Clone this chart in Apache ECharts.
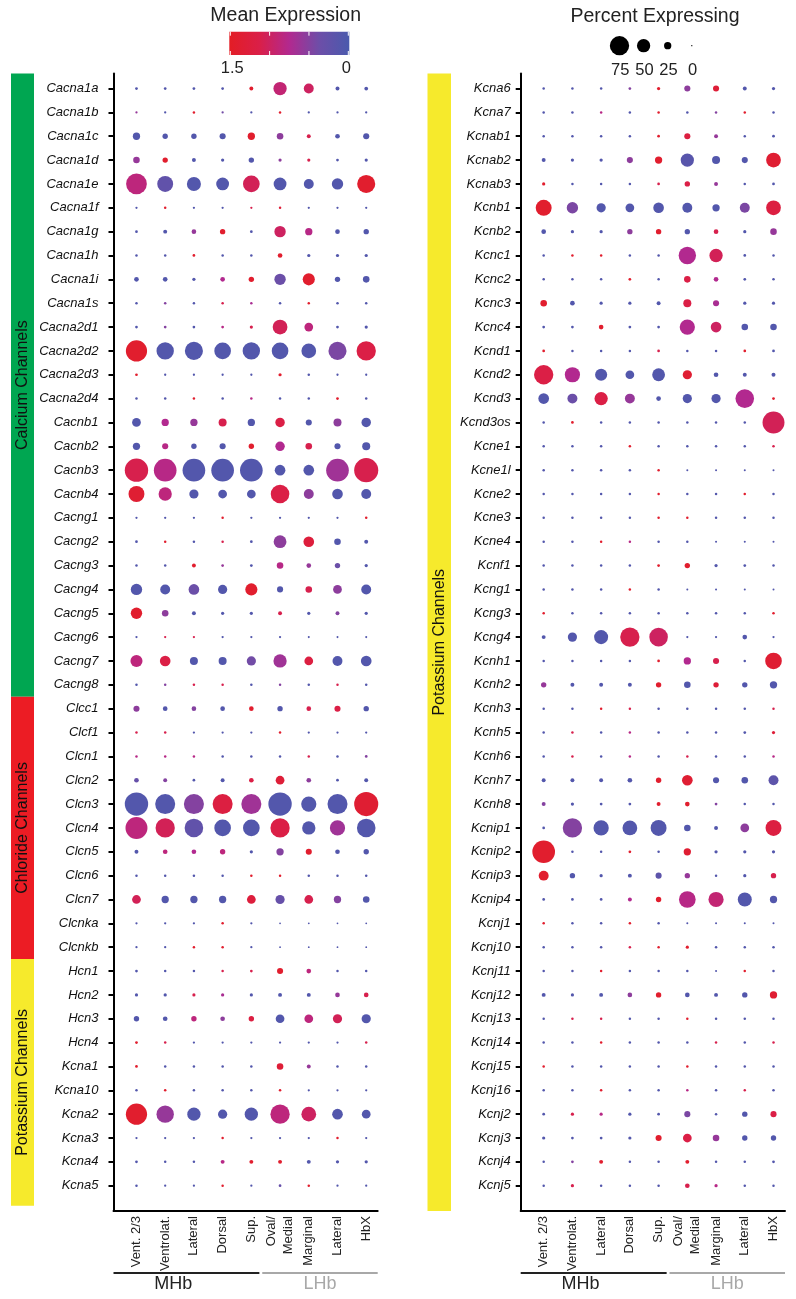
<!DOCTYPE html>
<html><head><meta charset="utf-8">
<script src="https://cdn.jsdelivr.net/npm/echarts@6/dist/echarts.min.js"></script>
<style>html,body{margin:0;padding:0;background:#fff}#c{width:796px;height:1299px}</style>
</head><body><div id="c"></div>
<script>
// ---------------- DATA ----------------
const clusters = ['Vent. 2/3','Ventrolat.','Lateral','Dorsal','Sup.','Oval/\nMedial','Marginal','Lateral','HbX'];
const regionNames = ['MHb','LHb'];
const regionSizes = [5, 4];

const genesLeft = ['Cacna1a','Cacna1b','Cacna1c','Cacna1d','Cacna1e','Cacna1f','Cacna1g','Cacna1h','Cacna1i','Cacna1s',
 'Cacna2d1','Cacna2d2','Cacna2d3','Cacna2d4','Cacnb1','Cacnb2','Cacnb3','Cacnb4','Cacng1','Cacng2','Cacng3','Cacng4',
 'Cacng5','Cacng6','Cacng7','Cacng8','Clcc1','Clcf1','Clcn1','Clcn2','Clcn3','Clcn4','Clcn5','Clcn6','Clcn7','Clcnka',
 'Clcnkb','Hcn1','Hcn2','Hcn3','Hcn4','Kcna1','Kcna10','Kcna2','Kcna3','Kcna4','Kcna5'];
const groupNamesLeft = ['Calcium Channels','Chloride Channels','Potassium Channels'];
const groupSizesLeft = [26, 11, 10];

// percent expressing per gene (rows) x cluster (cols)
const pctLeft = [
 [6,6,6,6,11,50,36,11,10],[4,4,5,4,4,5,4,4,4],[25,17,17,20,25,22,11,14,20],[22,17,11,8,17,8,8,6,8],
 [81,61,53,48,64,48,36,42,70],[4,5,4,4,4,5,4,4,4],[6,11,14,17,6,42,25,14,17],[5,5,6,5,5,14,8,8,8],
 [14,14,8,14,17,42,45,17,22],[5,5,5,5,5,5,5,5,5],[6,6,6,6,8,56,31,6,8],[83,67,70,64,67,64,56,70,75],
 [6,4,4,4,4,8,5,4,4],[5,5,5,5,5,5,5,6,5],[31,25,25,28,25,34,20,28,34],[25,20,17,20,17,34,22,20,28],
 [92,89,89,89,89,39,39,89,95],[61,50,33,31,31,72,36,39,36],[4,4,4,5,4,4,4,4,5],[6,5,5,5,6,48,39,22,11],
 [5,5,11,6,6,22,14,17,8],[42,36,39,33,45,20,22,31,36],[42,22,11,8,8,11,8,11,8],[4,4,4,4,4,4,3,3,3],
 [45,39,28,28,33,50,31,36,39],[5,5,5,5,5,5,5,5,5],[20,14,14,14,14,17,14,20,17],[5,5,4,4,4,5,4,4,4],
 [5,5,5,5,5,5,5,5,6],[14,11,6,11,14,31,14,6,11],[92,78,78,78,78,92,58,78,95],[86,75,72,64,64,75,50,58,72],
 [11,14,14,17,8,25,20,14,17],[5,5,5,5,5,5,5,5,5],[31,25,25,25,31,33,31,25,22],[4,4,4,5,4,2,2,2,2],
 [4,4,5,5,4,2,2,2,2],[6,5,5,5,6,20,14,5,5],[8,8,8,8,8,11,11,14,14],[17,14,17,14,17,31,31,33,33],
 [6,5,4,4,4,4,4,4,5],[6,5,5,5,5,22,11,5,5],[5,5,5,5,5,5,4,4,4],[83,67,50,33,50,75,56,39,31],
 [4,4,4,5,4,4,4,5,4],[6,5,5,11,11,11,11,8,8],[5,4,4,5,4,6,5,4,4]
];
// mean expression (0 .. 1.5)
const expLeft = [
 [0.1,0.1,0.1,0.1,1.4,0.9,1.0,0.1,0.1],[0.6,0.1,1.4,0.4,0.1,1.4,0.1,0.1,0.1],[0.1,0.1,0.1,0.1,1.4,0.55,1.1,0.1,0.1],
 [0.6,1.4,0.1,0.1,0.1,0.55,1.1,0.1,0.1],[0.85,0.25,0.1,0.1,1.05,0.1,0.1,0.1,1.4],[0.1,1.4,0.1,0.1,1.1,1.3,0.1,0.1,0.1],
 [0.1,0.1,0.6,1.4,0.1,1.0,0.8,0.1,0.1],[0.1,0.1,1.4,0.1,0.1,1.4,0.1,0.1,0.1],[0.1,0.1,0.1,0.75,1.4,0.35,1.4,0.1,0.1],
 [0.1,0.5,0.1,1.1,0.7,0.1,1.4,0.1,0.1],[0.1,0.5,0.1,0.8,1.1,1.05,0.85,0.1,0.1],[1.4,0.1,0.1,0.1,0.1,0.1,0.1,0.45,1.15],
 [1.4,0.1,0.1,0.1,0.1,1.4,0.1,0.1,0.1],[0.1,0.1,1.4,0.1,0.8,0.1,0.1,1.4,0.1],[0.1,0.75,0.6,1.1,0.1,1.15,0.1,0.55,0.1],
 [0.1,0.8,0.1,0.1,1.4,0.75,1.1,0.1,0.1],[1.1,0.8,0.1,0.1,0.1,0.1,0.1,0.65,1.1],[1.35,0.85,0.1,0.1,0.1,1.15,0.55,0.1,0.1],
 [0.1,0.1,0.1,1.4,0.1,0.1,0.1,0.1,1.4],[0.1,1.4,0.1,1.1,0.1,0.55,1.25,0.1,0.1],[0.1,0.1,1.4,0.6,0.1,0.8,0.6,0.35,0.1],
 [0.1,0.1,0.35,0.1,1.4,0.1,1.1,0.55,0.1],[1.4,0.55,0.1,0.1,0.1,1.1,0.1,0.5,0.1],[0.1,1.1,1.1,0.1,0.1,0.1,0.1,0.1,0.1],
 [0.85,1.15,0.1,0.1,0.4,0.65,1.2,0.1,0.1],[0.1,0.5,1.1,1.1,0.1,0.5,0.1,1.1,0.1],[0.55,0.1,0.5,0.1,1.4,0.1,1.1,1.15,0.1],
 [1.1,1.1,0.1,0.1,0.1,1.4,0.1,0.1,0.1],[0.8,0.8,0.8,0.1,0.1,0.1,1.1,0.1,0.5],[0.3,0.5,0.1,0.1,1.15,1.3,0.55,0.1,0.1],
 [0.1,0.1,0.5,1.2,0.65,0.1,0.1,0.1,1.35],[0.85,1.05,0.25,0.1,0.1,1.15,0.1,0.65,0.1],[0.1,0.85,0.75,0.85,0.1,0.5,1.4,0.1,0.1],
 [0.1,0.1,0.1,0.1,1.4,1.4,0.1,0.1,0.1],[1.05,0.1,0.1,0.1,1.25,0.3,1.1,0.5,0.1],[0.1,0.1,0.1,1.4,0.1,0.1,0.1,0.1,0.1],
 [0.1,0.1,1.4,1.4,0.1,0.1,0.1,0.1,0.1],[0.1,0.1,0.1,1.1,1.1,1.4,0.85,0.1,0.1],[0.1,0.1,1.1,0.7,0.1,0.1,0.1,0.6,1.1],
 [0.1,0.1,0.85,0.55,1.2,0.1,0.85,1.05,0.1],[1.4,1.1,0.1,0.1,0.1,0.1,0.1,0.1,1.1],[1.4,0.1,0.1,0.1,0.1,1.3,0.6,0.1,0.1],
 [0.1,1.4,0.1,0.1,0.1,1.4,0.1,0.1,0.1],[1.4,0.6,0.1,0.1,0.1,0.85,1.0,0.1,0.1],[0.1,0.1,0.1,1.4,0.1,0.1,0.1,1.4,0.1],
 [0.1,0.1,0.1,0.8,1.4,1.4,0.1,0.1,0.1],[0.1,0.1,0.1,1.4,0.1,0.3,1.4,0.1,0.1]
];

const genesRight = ['Kcna6','Kcna7','Kcnab1','Kcnab2','Kcnab3','Kcnb1','Kcnb2','Kcnc1','Kcnc2','Kcnc3','Kcnc4','Kcnd1',
 'Kcnd2','Kcnd3','Kcnd3os','Kcne1','Kcne1l','Kcne2','Kcne3','Kcne4','Kcnf1','Kcng1','Kcng3','Kcng4','Kcnh1','Kcnh2',
 'Kcnh3','Kcnh5','Kcnh6','Kcnh7','Kcnh8','Kcnip1','Kcnip2','Kcnip3','Kcnip4','Kcnj1','Kcnj10','Kcnj11','Kcnj12','Kcnj13',
 'Kcnj14','Kcnj15','Kcnj16','Kcnj2','Kcnj3','Kcnj4','Kcnj5'];
const groupNamesRight = ['Potassium Channels'];
const groupSizesRight = [47];

const pctRight = [
 [5,5,5,6,8,20,20,11,8],[5,5,5,5,5,5,5,5,5],[5,5,5,5,6,20,11,5,6],[11,8,8,20,25,50,28,20,56],
 [8,5,5,5,6,17,11,5,6],[61,42,33,31,39,36,25,36,56],[14,8,8,17,17,17,14,8,22],[5,5,5,5,5,67,50,6,5],
 [5,5,5,6,5,22,14,6,5],[22,14,8,8,11,28,20,8,8],[6,6,14,6,6,58,39,22,22],[6,5,5,5,6,5,5,6,6],
 [75,58,45,31,48,33,14,11,11],[39,36,50,36,14,33,33,72,6],[5,6,5,5,5,5,5,5,86],[5,5,5,5,5,5,5,5,5],
 [5,5,5,5,5,3,3,3,3],[5,5,5,5,5,5,5,5,5],[5,5,5,5,5,5,5,5,5],[5,5,5,5,5,5,3,3,3],
 [5,5,5,5,6,17,8,6,5],[5,5,5,5,5,3,3,3,3],[5,5,5,5,5,5,5,5,5],[11,33,53,75,72,4,4,14,4],
 [5,5,5,5,6,25,20,5,64],[17,11,11,11,17,22,17,17,25],[5,5,5,5,5,5,5,5,5],[5,5,5,5,5,5,5,6,8],
 [5,5,5,5,5,5,5,5,5],[11,11,11,14,17,39,20,22,36],[11,8,6,6,11,14,6,5,5],[6,75,58,56,61,22,11,31,61],
 [89,5,5,6,5,25,8,8,8],[36,17,8,11,20,17,5,8,17],[6,6,6,11,17,64,58,53,25],[5,5,5,5,5,3,3,3,3],
 [5,5,5,5,5,8,5,5,5],[5,5,5,5,5,5,3,5,5],[11,8,11,14,17,14,11,17,25],[5,5,5,5,5,5,5,5,5],
 [5,5,5,5,5,5,5,5,5],[5,5,5,5,5,5,5,5,5],[5,5,5,5,5,5,5,5,5],[6,8,8,8,6,20,5,17,20],
 [8,6,6,8,20,31,22,17,17],[5,6,11,5,5,11,5,5,6],[5,8,5,5,5,14,8,5,5]
];
const expRight = [
 [0.1,0.1,0.1,0.5,1.4,0.55,1.3,0.1,0.1],[0.1,0.1,0.8,0.1,1.4,0.1,0.5,1.4,0.1],[0.1,0.1,0.1,0.1,1.4,1.2,0.6,0.1,0.1],
 [0.1,0.1,0.1,0.55,1.4,0.15,0.1,0.1,1.35],[1.4,0.1,0.1,0.1,1.1,1.15,0.6,0.1,0.1],[1.4,0.45,0.1,0.1,0.1,0.1,0.1,0.45,1.2],
 [0.1,0.1,0.1,0.55,1.4,0.1,1.1,0.1,0.6],[0.1,1.4,1.4,0.1,0.1,0.75,1.05,0.1,0.1],[0.1,0.1,0.1,1.4,0.1,1.15,0.75,0.1,0.1],
 [1.4,0.1,0.1,0.1,0.1,1.15,0.7,0.1,0.1],[0.1,0.1,1.4,0.1,0.1,0.75,1.0,0.1,0.1],[1.4,0.1,0.1,0.1,1.1,0.1,0.1,1.4,0.1],
 [1.15,0.75,0.1,0.1,0.1,1.35,0.1,0.1,0.1],[0.1,0.35,1.15,0.6,0.1,0.1,0.1,0.75,1.4],[0.1,1.4,0.1,0.1,0.1,0.1,0.1,0.1,1.05],
 [0.1,0.1,0.1,1.4,0.1,0.1,0.1,0.1,1.1],[0.1,0.1,0.1,0.1,1.4,0.1,0.1,0.1,0.1],[0.1,0.1,0.1,0.1,1.4,0.1,0.1,1.4,0.1],
 [0.1,0.1,0.1,0.1,1.4,1.4,0.1,0.1,0.1],[0.1,0.1,1.4,0.8,0.1,0.1,0.1,0.1,0.1],[0.1,0.1,0.1,0.1,1.4,1.4,0.1,0.1,0.1],
 [0.1,0.1,0.1,1.4,0.1,0.1,0.1,0.1,0.1],[1.4,0.1,0.1,0.1,0.1,0.1,0.1,0.1,1.4],[0.1,0.1,0.1,1.1,1.0,0.1,0.1,0.1,0.1],
 [0.1,0.1,0.1,0.1,1.4,0.75,1.1,0.1,1.35],[0.6,0.1,0.1,0.1,1.4,0.1,1.3,0.1,0.1],[0.1,0.1,1.4,1.1,0.1,0.1,0.1,0.1,1.1],
 [0.1,1.1,0.1,0.8,0.1,0.1,0.1,0.1,1.3],[0.1,1.1,0.1,0.8,0.1,1.1,0.1,0.1,0.8],[0.1,0.1,0.1,0.1,1.4,1.35,0.1,0.1,0.2],
 [0.5,0.1,0.1,0.1,1.4,1.4,0.5,0.1,0.1],[0.1,0.5,0.1,0.1,0.1,0.1,0.1,0.55,1.2],[1.4,0.1,0.1,1.4,0.1,1.35,0.1,0.1,0.1],
 [1.4,0.1,0.1,0.1,0.2,0.6,0.1,0.1,1.1],[0.1,0.1,0.1,0.75,1.4,0.8,0.9,0.1,0.1],[1.4,0.1,0.1,1.4,0.1,0.1,0.1,0.1,0.1],
 [0.1,0.1,0.1,1.1,1.4,1.4,0.1,0.1,0.1],[0.1,0.1,1.4,0.1,0.1,0.1,0.1,1.4,0.1],[0.1,0.1,0.1,0.55,1.4,0.1,0.1,0.1,1.35],
 [0.1,1.1,1.1,0.1,0.1,1.4,0.1,0.1,0.1],[0.1,0.1,1.4,0.1,0.1,0.1,1.1,0.1,1.1],[1.4,0.1,0.1,0.1,0.1,1.4,0.1,0.1,0.1],
 [0.1,0.1,1.4,0.1,0.1,0.8,0.1,1.1,0.1],[0.1,1.1,0.8,0.1,0.1,0.45,0.1,0.1,1.15],[0.1,0.1,0.1,0.1,1.4,1.15,0.6,0.1,0.1],
 [0.1,0.5,1.4,0.1,0.1,1.4,0.1,0.1,0.1],[0.1,1.1,0.1,0.1,0.1,1.1,0.8,0.1,0.1]
];

const expLegendLabels = [1.5, 0];
const expLegendTicks = [1.5, 1.0, 0.5, 0];
const pctLegend = [75, 50, 25, 0];

// ---------------- STYLE / LAYOUT ----------------
const FONT = '"Liberation Sans", Arial, Helvetica, sans-serif';
const palette = ['#4a5aad', '#6d4ea8', '#b2298f', '#da1f48', '#e31d25']; // low -> high
const groupColors = {'Calcium Channels':'#00a651','Chloride Channels':'#ec1c24','Potassium Channels':'#f6ea2c'};
const EXP_MAX = 1.5;
function sizeOf(p){ return 1.3 + 0.24 * p; }

const Y_MIN = -0.63, Y_MAX = 47.06, X_MIN = -0.8, X_MAX = 8.4;
const TOP = 73.5, HEIGHT = 1137.5;
const panels = [
  {left:113.5, width:264.2, genes:genesLeft, pct:pctLeft, exp:expLeft, gNames:groupNamesLeft, gSizes:groupSizesLeft, labelMargin:15, barLeft:11, barWidth:23, barEndTrim:0.22},
  {left:520.7, width:264.3, genes:genesRight, pct:pctRight, exp:expRight, gNames:groupNamesRight, gSizes:groupSizesRight, labelMargin:10, barLeft:427.5, barWidth:23.5, barEndTrim:0}
];

function buildData(pct, exp){
  const out = [];
  pct.forEach((row, i) => row.forEach((p, j) => out.push([j, i, p, exp[i][j]])));
  return out;
}
function groupRanges(sizes, n, trim){
  const res = []; let s = 0;
  sizes.forEach(sz => {
    const first = s, last = s + sz - 1;
    res.push([first === 0 ? Y_MIN : first - 0.5, last === n - 1 ? Y_MAX - trim : last + 0.5]);
    s += sz;
  });
  return res;
}

const grid = [], xAxis = [], yAxis = [], series = [];
panels.forEach((P, k) => {
  const gi = grid.length;
  grid.push({left:P.left, top:TOP, width:P.width, height:HEIGHT});
  grid.push({left:P.barLeft, top:TOP, width:P.barWidth, height:HEIGHT});
  const rowIdx = P.genes.map((_, i) => i);
  const colIdx = clusters.map((_, i) => i);
  xAxis.push({
    type:'value', gridIndex:gi, min:X_MIN, max:X_MAX,
    axisLine:{show:true, onZero:false, lineStyle:{color:'#000', width:2}},
    axisTick:{show:false}, splitLine:{show:false},
    axisLabel:{customValues:colIdx, formatter:v => clusters[Math.round(v)], rotate:90, margin:5,
      fontSize:13, lineHeight:17, color:'#222', fontFamily:FONT}
  });
  xAxis.push({type:'value', gridIndex:gi+1, min:0, max:1, show:false});
  yAxis.push({
    type:'value', gridIndex:gi, min:Y_MIN, max:Y_MAX, inverse:true,
    axisLine:{show:true, onZero:false, lineStyle:{color:'#000', width:2}},
    axisTick:{show:true, customValues:rowIdx, length:5, lineStyle:{color:'#000', width:2}},
    splitLine:{show:false},
    axisLabel:{customValues:rowIdx, formatter:v => P.genes[Math.round(v)], margin:P.labelMargin,
      fontSize:13, fontStyle:'italic', color:'#111', fontFamily:FONT}
  });
  yAxis.push({type:'value', gridIndex:gi+1, min:Y_MIN, max:Y_MAX, inverse:true, show:false});

  series.push({
    type:'scatter', xAxisIndex:gi, yAxisIndex:gi, data:buildData(P.pct, P.exp),
    symbol:'circle', symbolSize:v => sizeOf(v[2]), silent:true, itemStyle:{opacity:1}
  });
  const ranges = groupRanges(P.gSizes, P.genes.length, P.barEndTrim);
  series.push({
    type:'custom', xAxisIndex:gi+1, yAxisIndex:gi+1, silent:true,
    data:ranges,
    renderItem:(params, api) => {
      const name = P.gNames[params.dataIndex];
      const a = api.coord([0, api.value(0)]), b = api.coord([1, api.value(1)]);
      return {type:'group', children:[
        {type:'rect', shape:{x:a[0], y:a[1], width:b[0]-a[0], height:b[1]-a[1]}, style:{fill:groupColors[name]}},
        {type:'text', x:(a[0]+b[0])/2, y:(a[1]+b[1])/2, rotation:Math.PI/2,
          style:{text:name, fill:'#111', font:'16px ' + FONT, align:'center', verticalAlign:'middle'}}
      ]};
    }
  });
});

const chart = echarts.init(document.getElementById('c'), null, {renderer:'canvas'});
chart.setOption({
  animation:false, backgroundColor:'#fff',
  grid, xAxis, yAxis, series,
  visualMap:{type:'continuous', show:false, min:0, max:EXP_MAX, dimension:3,
    seriesIndex:series.map((s,i)=>s.type==='scatter'?i:-1).filter(i=>i>=0), inRange:{color:palette}}
});

// ---------------- annotations (legends, region brackets) ----------------
const graphic = [];
function txt(x, y, text, size, color, align){
  graphic.push({type:'text', x, y, silent:true,
    style:{text, fill:color||'#222', font:size+'px '+FONT, align:align||'center', verticalAlign:'middle',
      textAlign:align||'center', textVerticalAlign:'middle'}});
}
// Mean expression legend
const barX0 = 229.3, barW = 120, barY = 31.7, barH = 23.3;
const valToX = v => barX0 + 1 + (EXP_MAX - v) / EXP_MAX * (barW - 2);
txt(285.7, 16, 'Mean Expression', 19.5, '#222');
graphic.push({type:'rect', silent:true, shape:{x:barX0, y:barY, width:barW, height:barH},
  style:{fill:{type:'linear', x:0, y:0, x2:1, y2:0,
    colorStops:palette.slice().reverse().map((c, i) => ({offset:i/(palette.length-1), color:c}))}}});
expLegendTicks.forEach(v => {
  const x = valToX(v);
  graphic.push({type:'line', silent:true, shape:{x1:x, y1:barY, x2:x, y2:barY+4}, style:{stroke:'#fff', lineWidth:1}});
  graphic.push({type:'line', silent:true, shape:{x1:x, y1:barY+barH-4, x2:x, y2:barY+barH}, style:{stroke:'#fff', lineWidth:1}});
});
expLegendLabels.forEach(v => txt(valToX(v) + (v === EXP_MAX ? 2 : -2), 68, String(v), 16.5, '#222'));

// Percent expressing legend
txt(655, 17, 'Percent Expressing', 19.5, '#222');
pctLegend.forEach((p, i) => {
  const x = 619.5 + i * 24.1;
  graphic.push({type:'circle', silent:true, shape:{cx:x, cy:45.7, r:sizeOf(p)/2}, style:{fill:'#000'}});
  txt(x + 0.8, 70, String(p), 16.5, '#222');
});

// MHb / LHb brackets under each panel
panels.forEach((P, k) => {
  const xi = k * 2;
  let start = 0;
  regionSizes.forEach((sz, r) => {
    const first = start, last = start + sz - 1;
    const v0 = first === 0 ? X_MIN : first - 0.62;
    const v1 = last === clusters.length - 1 ? X_MAX : last + 0.28;
    const x0 = chart.convertToPixel({xAxisIndex:xi}, v0);
    const x1 = chart.convertToPixel({xAxisIndex:xi}, v1);
    const col = r === 0 ? '#222' : '#a8a8a8';
    graphic.push({type:'line', silent:true, shape:{x1:x0, y1:1273, x2:x1, y2:1273}, style:{stroke:col, lineWidth:2}});
    const cx = r === 0 ? x0 + 0.41 * (x1 - x0) : (x0 + x1) / 2;
    txt(cx, 1284.5, regionNames[r], 18, col);
    start += sz;
  });
});
chart.setOption({graphic});
</script></body></html>
